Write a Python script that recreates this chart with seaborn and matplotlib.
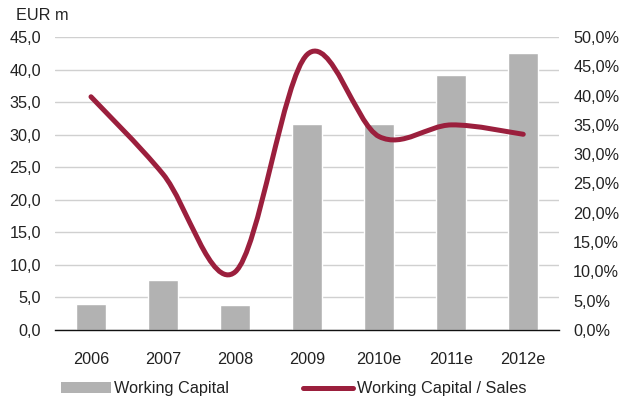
import numpy as np
import pandas as pd
import seaborn as sns
import matplotlib
matplotlib.use("Agg")
import matplotlib.pyplot as plt
from matplotlib.path import Path
from matplotlib.patches import PathPatch, Patch
from matplotlib.lines import Line2D
from matplotlib.ticker import FuncFormatter

# data
years = ['2006', '2007', '2008', '2009', '2010e', '2011e', '2012e']
working_capital = [4.0, 7.7, 3.8, 31.6, 31.6, 39.2, 42.5]      # EUR m
wc_to_sales = [39.8, 26.6, 9.9, 47.0, 33.0, 35.0, 33.4]        # %

bar_color = '#b2b2b2'
line_color = '#9b1f3d'
text_color = '#222222'
fs = 11.7

sns.set_theme(style='white')
plt.rcParams['font.family'] = ['Liberation Sans', 'DejaVu Sans']
plt.rcParams['text.color'] = text_color
plt.rcParams['xtick.color'] = text_color
plt.rcParams['ytick.color'] = text_color

df = pd.DataFrame({'year': years, 'wc': working_capital, 'ratio': wc_to_sales})

fig = plt.figure(figsize=(6.37, 4.0), dpi=100)
ax = fig.add_axes([0.0863, 0.175, 0.7917, 0.7325])

sns.barplot(data=df, x='year', y='wc', color=bar_color, width=0.41,
            saturation=1, ax=ax, zorder=2)
ax.set_xlim(-0.5, len(years) - 0.5)
ax.set_ylim(0, 45)
ax.set_yticks(np.arange(0, 45.1, 5))
ax.yaxis.set_major_formatter(FuncFormatter(lambda v, p: f'{v:.1f}'.replace('.', ',')))
ax.grid(axis='y', color='#d0d0d0', linewidth=1, zorder=0)
ax.set_axisbelow(True)
ax.set_xlabel('')
ax.set_ylabel('')
for s in ['top', 'right', 'left']:
    ax.spines[s].set_visible(False)
ax.spines['bottom'].set_color('#111111')
ax.spines['bottom'].set_linewidth(1)
ax.tick_params(axis='both', length=0, labelsize=fs)
ax.tick_params(axis='x', pad=15.5)
ax.tick_params(axis='y', pad=10)

# secondary axis for the ratio, smoothed line like the original
ax2 = ax.twinx()
ax2.set_ylim(0, 50)
ax2.set_yticks(np.arange(0, 50.1, 5))
ax2.yaxis.set_major_formatter(FuncFormatter(lambda v, p: f'{v:.1f}%'.replace('.', ',')))
for s in ['top', 'right', 'left', 'bottom']:
    ax2.spines[s].set_visible(False)
ax2.tick_params(axis='y', length=0, labelsize=fs, pad=10)

xs = np.arange(len(years), dtype=float)
pts = np.column_stack([xs, wc_to_sales])
verts = [pts[0]]
codes = [Path.MOVETO]
for i in range(len(pts) - 1):
    pm = pts[i - 1] if i > 0 else pts[i]
    p0, p1 = pts[i], pts[i + 1]
    p2 = pts[i + 2] if i + 2 < len(pts) else pts[i + 1]
    verts += [p0 + (p1 - pm) / 6, p1 - (p2 - p0) / 6, p1]
    codes += [Path.CURVE4] * 3
ax2.add_patch(PathPatch(Path(verts, codes), facecolor='none', edgecolor=line_color,
                        linewidth=3.6, capstyle='round', zorder=3))

fig.text(0.025, 0.962, 'EUR m', fontsize=fs, ha='left', va='center')

handles = [Patch(facecolor=bar_color, edgecolor='none'),
           Line2D([0], [0], color=line_color, linewidth=3.6)]
fig.legend(handles, ['Working Capital', 'Working Capital / Sales'],
           loc='center left', bbox_to_anchor=(0.095, 0.028), ncol=2, frameon=False,
           fontsize=fs, handlelength=3.1, handletextpad=0.2, columnspacing=4.55,
           borderaxespad=0, borderpad=0)

fig.savefig('out.png', dpi=100)
